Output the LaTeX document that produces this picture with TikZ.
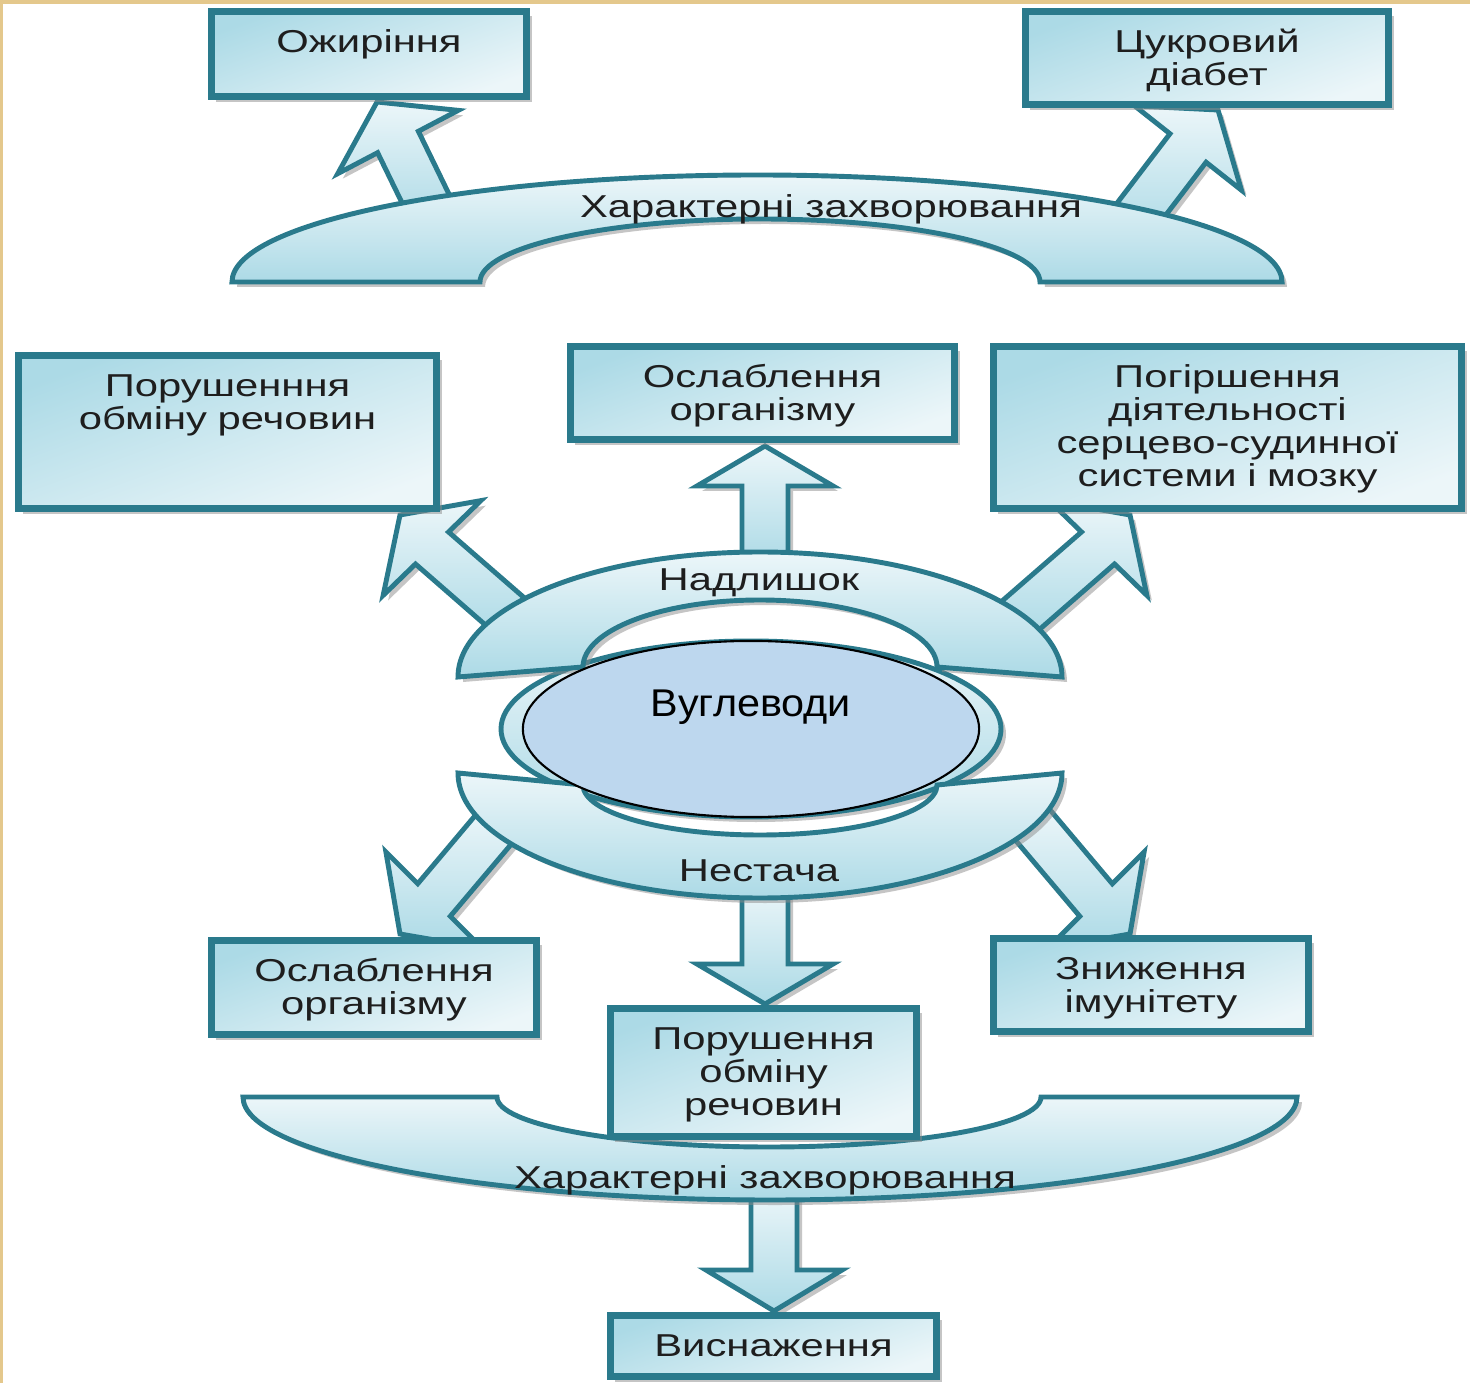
\documentclass[tikz,border=0pt]{standalone}
\usepackage{fontspec}
\setmainfont{Liberation Sans}
\newfontfamily\boxfont{Liberation Sans}[FakeStretch=1.32]
\newfontfamily\carbfont{Liberation Sans}[FakeStretch=1.07]
\usetikzlibrary{calc,shadows,shapes.geometric}

\definecolor{tealline}{RGB}{42,122,140}
\definecolor{boxdark}{RGB}{172,218,230}
\definecolor{boxlight}{RGB}{236,246,249}
\definecolor{carbfill}{RGB}{189,215,238}
\definecolor{goldedge}{RGB}{228,200,140}
\definecolor{inktext}{RGB}{30,30,30}

\newcommand{\boxtext}{\boxfont\fontsize{9}{9.4}\selectfont}
% block arrow: foot #1, neck #2, tip #3
\newcommand{\fatarrow}[3]{%
  \draw[fatarr] ($(#1)!0.23cm!90:(#2)$) -- ($(#2)!0.23cm!90:(#3)$)
    -- ($(#2)!0.68cm!90:(#3)$) -- (#3) -- ($(#2)!0.68cm!-90:(#3)$)
    -- ($(#2)!0.23cm!-90:(#3)$) -- ($(#1)!0.23cm!-90:(#2)$) -- cycle;}

\begin{document}
\begin{tikzpicture}[x=0.01cm, y=-0.01cm,
  shade/.style={drop shadow={shadow xshift=0.05cm, shadow yshift=-0.05cm, fill=black!45, opacity=0.5}},
  box/.style={shade, draw=tealline, line width=2pt, top color=boxdark, bottom color=boxlight,
    shading angle=20, align=center, text=inktext, font=\boxtext,
    inner xsep=0pt, inner ysep=0.07cm, text height=0.34cm},
  band/.style={shade, draw=tealline, line width=1.4pt, top color=boxlight, bottom color=boxdark},
  fatarr/.style={band, line join=miter},
  tag/.style={font=\boxtext, text=inktext, anchor=base, inner sep=0pt}]
  \useasboundingbox (0,0) rectangle (1470,1383);
  \fill[white] (0,0) rectangle (1470,1383);
  \fill[goldedge] (0,0) rectangle (1470,4);
  \fill[goldedge] (0,0) rectangle (3,1383);

  \coordinate (obesfoot) at (434,216);   \coordinate (obesneck) at (398,142);   \coordinate (obestip) at (377,102);
  \coordinate (diabfoot) at (1127,228);  \coordinate (diabneck) at (1188,148);  \coordinate (diabtip) at (1218,110);
  \coordinate (metabfoot) at (517,622);  \coordinate (metabneck) at (432,548);  \coordinate (metabtip) at (400,515);
  \coordinate (weakfoot) at (765,565);   \coordinate (weakneck) at (765,486);   \coordinate (weaktip) at (765,446);
  \coordinate (heartfoot) at (1013,622); \coordinate (heartneck) at (1098,548); \coordinate (hearttip) at (1130,515);
  \coordinate (weakbfoot) at (499,823);  \coordinate (weakbneck) at (434,900);  \coordinate (weakbtip) at (400,934);
  \coordinate (metabbfoot) at (765,885); \coordinate (metabbneck) at (765,964); \coordinate (metabbtip) at (765,1004);
  \coordinate (immunfoot) at (1031,823); \coordinate (immunneck) at (1096,900); \coordinate (immuntip) at (1130,934);
  \coordinate (exhfoot) at (774,1190);   \coordinate (exhneck) at (774,1270);   \coordinate (exhtip) at (774,1311);

  % arrows first, the bands cover their feet
  \fatarrow{obesfoot}{obesneck}{obestip}
  \fatarrow{diabfoot}{diabneck}{diabtip}
  \fatarrow{metabfoot}{metabneck}{metabtip}
  \fatarrow{weakfoot}{weakneck}{weaktip}
  \fatarrow{heartfoot}{heartneck}{hearttip}
  \fatarrow{weakbfoot}{weakbneck}{weakbtip}
  \fatarrow{metabbfoot}{metabbneck}{metabbtip}
  \fatarrow{immunfoot}{immunneck}{immuntip}
  \fatarrow{exhfoot}{exhneck}{exhtip}

  \draw[band] (232,282) arc[start angle=180, end angle=360, x radius=525, y radius=107]
    -- (1040,282) arc[start angle=0, end angle=-180, x radius=280, y radius=63] -- cycle;
  \draw[band] (751,729) ellipse[x radius=250, y radius=88];
  \draw[band] (458,677) arc[start angle=180, end angle=360, x radius=302, y radius=125]
    -- (937,667) arc[start angle=0, end angle=-180, x radius=177, y radius=67] -- cycle;
  \draw[band] (458,773) arc[start angle=180, end angle=0, x radius=302, y radius=125]
    -- (937,785) arc[start angle=0, end angle=180, x radius=177, y radius=50] -- cycle;
  \draw[band] (243,1097) arc[start angle=180, end angle=0, x radius=527, y radius=103]
    -- (1041,1097) arc[start angle=0, end angle=180, x radius=272, y radius=50] -- cycle;

  \node[ellipse, draw=black, line width=0.6pt, fill=carbfill, minimum width=4.56cm,
    minimum height=1.76cm, font=\carbfont\fontsize{11}{13}\selectfont,
    text height=0.3cm, text depth=0.54cm] (carb) at (751,729) {Вуглеводи};

  \node[tag] (sickup) at (831,218) {Характерні захворювання};
  \node[tag] (excess) at (759,591) {Надлишок};
  \node[tag] (lack) at (759,881) {Нестача};
  \node[tag] (sickdown) at (765,1188) {Характерні захворювання};

  \node[box, minimum width=3.15cm, text width=2.95cm, text depth=0.37cm] (obes) at (369,54) {Ожиріння};
  \node[box, minimum width=3.63cm, text width=3.43cm, text depth=0.45cm] (diab) at (1207,58) {Цукровий\\діабет};
  \node[box, minimum width=4.18cm, text width=3.98cm, text depth=1.05cm] (metab) at (227.5,432) {Порушенння\\обміну речовин};
  \node[box, minimum width=3.84cm, text width=3.64cm, text depth=0.45cm] (weak) at (762.5,393) {Ослаблення\\організму};
  \node[box, minimum width=4.68cm, text width=4.48cm, text depth=1.14cm] (heart) at (1227.5,427.5) {Погіршення\\діятельності\\серцево-судинної\\системи і мозку};
  \node[box, minimum width=3.25cm, text width=3.05cm, text depth=0.46cm] (weakb) at (374,987.5) {Ослаблення\\організму};
  \node[box, minimum width=3.15cm, text width=2.95cm, text depth=0.45cm] (immun) at (1151,985) {Зниження\\імунітету};
  \node[box, minimum width=3.06cm, text width=2.86cm, text depth=0.80cm] (metabb) at (763.5,1072.5) {Порушення\\обміну\\речовин};
  \node[box, minimum width=3.26cm, text width=3.06cm, text depth=0.13cm] (exh) at (773.5,1346) {Виснаження};
\end{tikzpicture}
\end{document}
